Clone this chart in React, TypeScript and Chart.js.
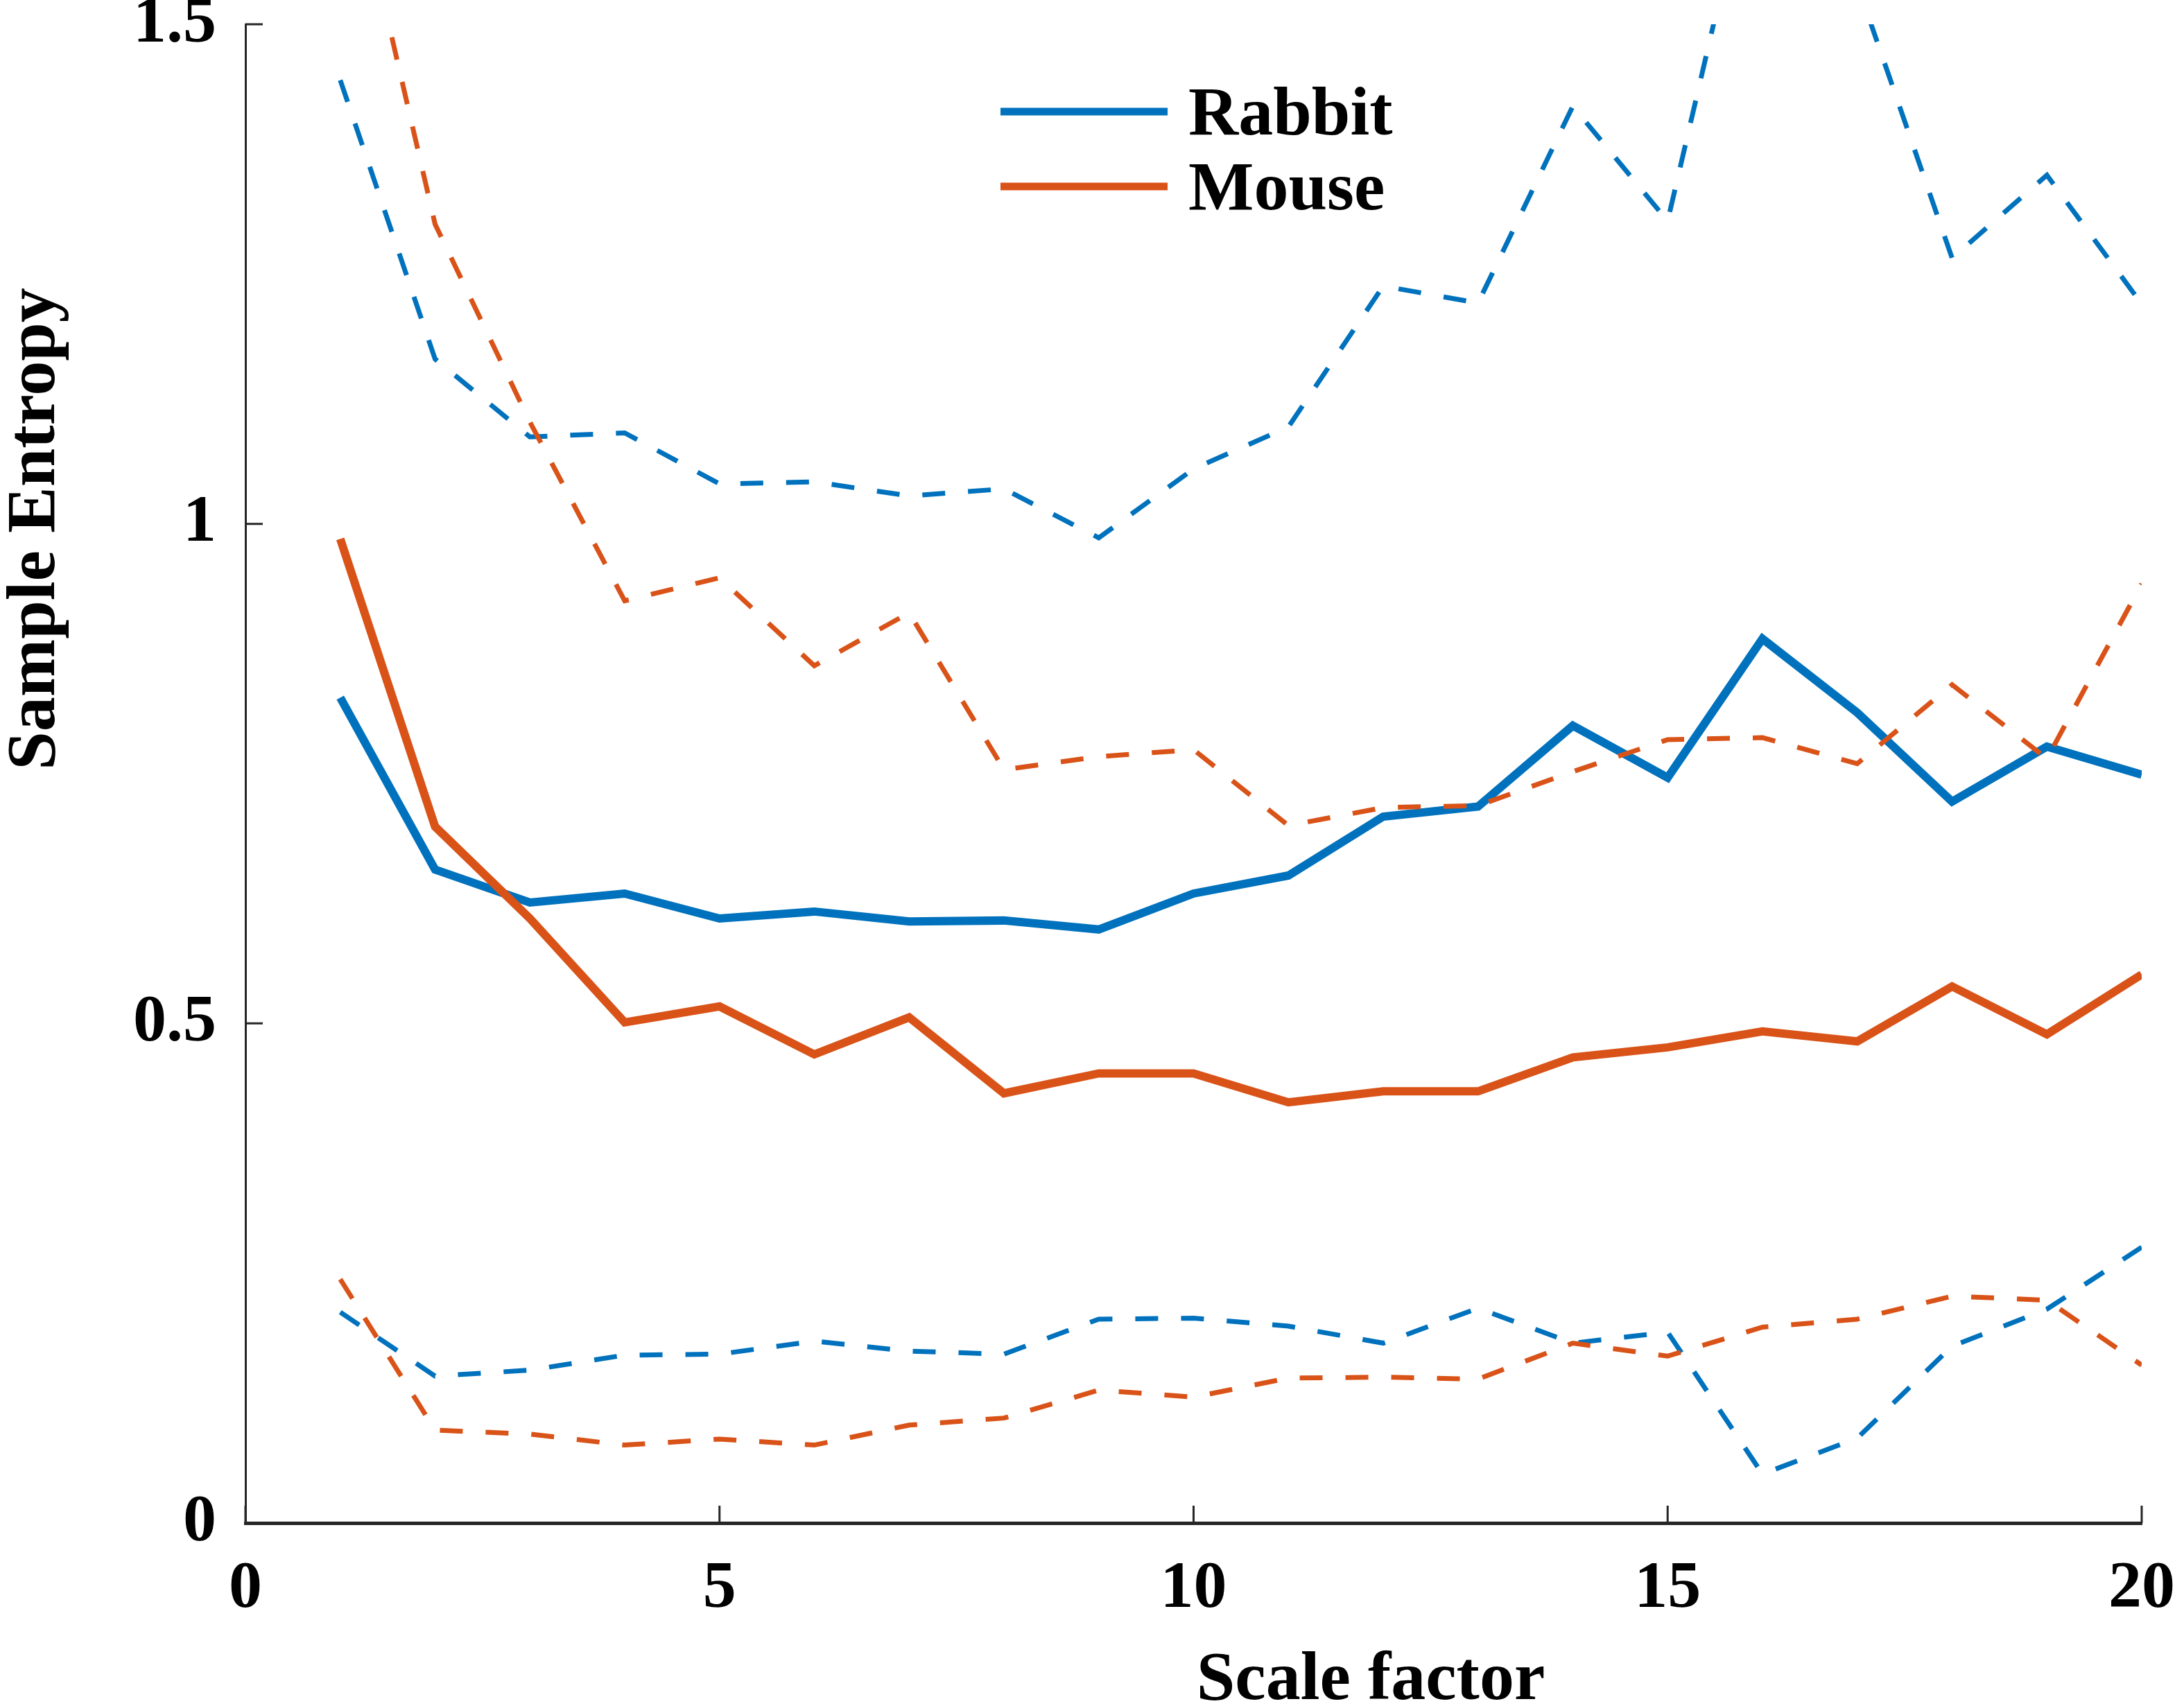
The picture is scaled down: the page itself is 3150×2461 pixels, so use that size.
import React, { useEffect, useRef } from 'react';
import { Chart, registerables } from 'chart.js';

Chart.register(...registerables);

// ---- data ----
const scaleFactors = [1, 2, 3, 4, 5, 6, 7, 8, 9, 10, 11, 12, 13, 14, 15, 16, 17, 18, 19, 20];

const rabbitMean = [0.826, 0.654, 0.621, 0.630, 0.605, 0.612, 0.602, 0.603, 0.594, 0.630, 0.648, 0.707, 0.717, 0.798, 0.746, 0.885, 0.811, 0.722, 0.777, 0.749];
const mouseMean = [0.985, 0.697, 0.605, 0.501, 0.517, 0.469, 0.506, 0.430, 0.450, 0.450, 0.421, 0.432, 0.432, 0.466, 0.476, 0.492, 0.482, 0.537, 0.489, 0.549];

const rabbitUpper = [1.444, 1.165, 1.087, 1.091, 1.040, 1.042, 1.028, 1.035, 0.986, 1.055, 1.097, 1.238, 1.221, 1.418, 1.303, 1.71, 1.54, 1.266, 1.349, 1.220];
const rabbitLower = [0.211, 0.147, 0.153, 0.168, 0.169, 0.182, 0.172, 0.169, 0.204, 0.205, 0.197, 0.180, 0.215, 0.180, 0.191, 0.049, 0.085, 0.177, 0.214, 0.276];
const mouseUpper = [1.71, 1.30, 1.102, 0.923, 0.946, 0.858, 0.911, 0.754, 0.767, 0.774, 0.698, 0.716, 0.718, 0.752, 0.784, 0.786, 0.760, 0.839, 0.765, 0.940];
const mouseLower = [0.244, 0.093, 0.089, 0.078, 0.084, 0.078, 0.098, 0.105, 0.133, 0.126, 0.145, 0.146, 0.144, 0.180, 0.167, 0.196, 0.204, 0.227, 0.223, 0.158];

const xTickValues = [0, 5, 10, 15, 20];
const yTickValues = [0, 0.5, 1, 1.5];
const legendLabels = ['Rabbit', 'Mouse'];
const xTitle = 'Scale factor';
const yTitle = 'Sample Entropy';

// ---- styling ----
const W = 3150;
const H = 2461;
const FONT = "'Liberation Serif', 'Times New Roman', Times, serif";
const BLUE = '#0072BD';
const ORANGE = '#D95319';
const AXIS = '#262626';
const TEXT = '#000000';

export default function App() {
  const ref = useRef<HTMLCanvasElement>(null);

  useEffect(() => {
    const canvas = ref.current;
    if (!canvas) return;
    const pts = (ys: number[]) => ys.map((y, i) => ({ x: scaleFactors[i], y }));

    const decor = {
      id: 'decor',
      afterDraw(chart: any) {
        const ctx = chart.ctx as CanvasRenderingContext2D;
        const a = chart.chartArea;
        const xs = chart.scales.x;
        const ys = chart.scales.y;
        ctx.save();
        // inward ticks
        ctx.strokeStyle = AXIS;
        ctx.lineWidth = 3;
        ctx.beginPath();
        xTickValues.forEach((v) => {
          const px = xs.getPixelForValue(v);
          ctx.moveTo(px, a.bottom);
          ctx.lineTo(px, a.bottom - 25);
        });
        yTickValues.forEach((v) => {
          const py = ys.getPixelForValue(v);
          ctx.moveTo(a.left, py);
          ctx.lineTo(a.left + 25, py);
        });
        ctx.stroke();

        // axis titles
        ctx.fillStyle = TEXT;
        ctx.font = `bold 100px ${FONT}`;
        ctx.textAlign = 'center';
        ctx.textBaseline = 'alphabetic';
        ctx.fillText(xTitle, 1977, 2451);
        ctx.save();
        ctx.translate(78, 763);
        ctx.rotate(-Math.PI / 2);
        ctx.fillText(yTitle, 0, 0);
        ctx.restore();

        // legend
        const legendColors = [BLUE, ORANGE];
        const legendY = [161, 269];
        legendLabels.forEach((label, i) => {
          ctx.strokeStyle = legendColors[i];
          ctx.lineWidth = 11;
          ctx.beginPath();
          ctx.moveTo(1443, legendY[i]);
          ctx.lineTo(1684, legendY[i]);
          ctx.stroke();
          ctx.fillStyle = TEXT;
          ctx.textAlign = 'left';
          ctx.fillText(label, 1714, legendY[i] + 33);
        });
        ctx.restore();
      },
    };

    const tickFont = { family: FONT, size: 96, weight: 'bold' as const, lineHeight: 1.2 };

    const chart = new Chart(canvas, {
      type: 'line',
      data: {
        datasets: [
          { label: 'Rabbit', data: pts(rabbitMean), borderColor: BLUE, borderWidth: 12, pointRadius: 0, tension: 0, fill: false, order: 4, clip: 0 },
          { label: 'Mouse', data: pts(mouseMean), borderColor: ORANGE, borderWidth: 12, pointRadius: 0, tension: 0, fill: false, order: 3, clip: 0 },
          { label: 'Rabbit upper', data: pts(rabbitUpper), borderColor: BLUE, borderWidth: 7, borderDash: [33, 33], pointRadius: 0, tension: 0, fill: false, order: 2, clip: 0 },
          { label: 'Rabbit lower', data: pts(rabbitLower), borderColor: BLUE, borderWidth: 7, borderDash: [33, 33], pointRadius: 0, tension: 0, fill: false, order: 2, clip: 0 },
          { label: 'Mouse upper', data: pts(mouseUpper), borderColor: ORANGE, borderWidth: 7, borderDash: [33, 33], pointRadius: 0, tension: 0, fill: false, order: 1, clip: 0 },
          { label: 'Mouse lower', data: pts(mouseLower), borderColor: ORANGE, borderWidth: 7, borderDash: [33, 33], pointRadius: 0, tension: 0, fill: false, order: 1, clip: 0 },
        ] as any,
      },
      options: {
        responsive: false,
        maintainAspectRatio: false,
        devicePixelRatio: 1,
        animation: false,
        parsing: false as any,
        normalized: true,
        layout: { padding: { top: 35, right: 61, left: 0, bottom: 0 } },
        plugins: {
          legend: { display: false },
          tooltip: { enabled: false },
          title: { display: false },
        },
        events: [],
        scales: {
          x: {
            type: 'linear',
            min: 0,
            max: 20,
            grid: { display: false, drawTicks: false, tickLength: 0 },
            border: { display: true, color: AXIS, width: 5 },
            ticks: {
              stepSize: 5,
              padding: 39,
              color: TEXT,
              font: tickFont,
              maxRotation: 0,
              autoSkip: false,
              callback: (v: any) => String(v),
            },
            afterFit: (s: any) => {
              s.height = 264;
              s.paddingLeft = 0;
              s.paddingRight = 0;
            },
          },
          y: {
            type: 'linear',
            min: 0,
            max: 1.5,
            grid: { display: false, drawTicks: false, tickLength: 0 },
            border: { display: true, color: AXIS, width: 3 },
            ticks: {
              stepSize: 0.5,
              padding: 42,
              color: TEXT,
              font: tickFont,
              autoSkip: false,
              callback: (v: any) => String(v),
            },
            afterFit: (s: any) => {
              s.width = 354;
              s.paddingTop = 0;
              s.paddingBottom = 0;
            },
          },
        },
      },
      plugins: [decor],
    });

    return () => chart.destroy();
  }, []);

  return (
    <div style={{ position: 'absolute', left: 0, top: 0, width: W, height: H, background: '#ffffff', overflow: 'hidden' }}>
      <canvas ref={ref} width={W} height={H} style={{ display: 'block', width: W, height: H }} />
    </div>
  );
}
